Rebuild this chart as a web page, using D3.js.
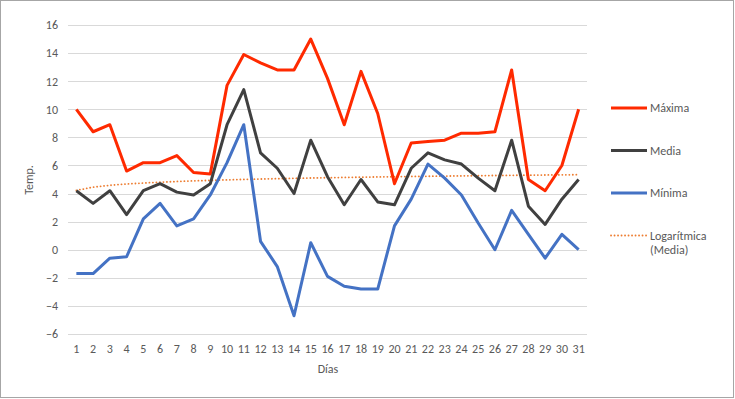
<!DOCTYPE html>
<html>
<head>
<meta charset="utf-8">
<script src="https://cdn.jsdelivr.net/npm/d3@7"></script>
<style>
  body { margin: 0; background: #fff; }
  svg text { font-family: Carlito, "Liberation Sans", Arial, sans-serif; fill: #595959; }
</style>
</head>
<body>
<svg id="chart" width="735" height="399"></svg>
<script>
// data
var days = d3.range(1, 32);
var maxima = [10.0, 8.4, 8.9, 5.6, 6.2, 6.2, 6.7, 5.5, 5.4, 11.7, 13.9, 13.3, 12.8, 12.8, 15.0, 12.2,
  8.9, 12.7, 9.7, 4.7, 7.6, 7.7, 7.8, 8.3, 8.3, 8.4, 12.8, 5.0, 4.2, 6.0, 10.0];
var media = [4.2, 3.3, 4.2, 2.5, 4.2, 4.7, 4.1, 3.9, 4.7, 8.9, 11.4, 6.9, 5.8, 4.0, 7.8, 5.2,
  3.2, 5.0, 3.4, 3.2, 5.8, 6.9, 6.4, 6.1, 5.1, 4.2, 7.8, 3.1, 1.8, 3.6, 5.0];
var minima = [-1.7, -1.7, -0.6, -0.5, 2.2, 3.3, 1.7, 2.2, 3.9, 6.2, 8.9, 0.6, -1.2, -4.7, 0.5, -1.9,
  -2.6, -2.8, -2.8, 1.7, 3.6, 6.1, 5.1, 3.9, 1.9, 0.0, 2.8, 1.1, -0.6, 1.1, 0.0];
var yTicks = [-6, -4, -2, 0, 2, 4, 6, 8, 10, 12, 14, 16];

var series = [
  { name: "Máxima", values: maxima, color: "#FF2A00" },
  { name: "Media", values: media, color: "#404040" },
  { name: "Mínima", values: minima, color: "#4472C4" }
];

// logarithmic trendline of "Media" (least squares on ln(x))
var lx = days.map(function(d) { return Math.log(d); });
var mx = d3.mean(lx), my = d3.mean(media);
var slope = d3.sum(lx, function(v, i) { return (v - mx) * (media[i] - my); }) /
  d3.sum(lx, function(v) { return (v - mx) * (v - mx); });
var icpt = my - slope * mx;
var trend = days.map(function(d) { return slope * Math.log(d) + icpt; });

var svg = d3.select("#chart");

svg.append("rect")
  .attr("x", 0.5).attr("y", 0.5)
  .attr("width", 733).attr("height", 397)
  .attr("fill", "#fff")
  .attr("stroke", "#A6A6A6");

var x = d3.scaleBand().domain(days).range([68, 587]);
var y = d3.scaleLinear().domain([-6, 16]).range([334, 25]);
var cx = function(d) { return x(d) + x.bandwidth() / 2; };

// gridlines
svg.append("g").selectAll("line").data(yTicks).enter().append("line")
  .attr("x1", 68).attr("x2", 587)
  .attr("y1", function(d) { return Math.round(y(d)) + 0.5; })
  .attr("y2", function(d) { return Math.round(y(d)) + 0.5; })
  .attr("stroke", "#D9D9D9")
  .attr("stroke-width", 1);

// y axis
var yAxis = svg.append("g")
  .attr("transform", "translate(68,0)")
  .call(d3.axisLeft(y).tickValues(yTicks).tickSize(0).tickPadding(10).tickFormat(d3.format("d")));
yAxis.select(".domain").remove();
yAxis.selectAll("text").style("font-size", "12px");

// x axis
var xAxis = svg.append("g")
  .attr("transform", "translate(0,334)")
  .call(d3.axisBottom(x).tickSize(0).tickPadding(10));
xAxis.select(".domain").remove();
xAxis.selectAll("text").style("font-size", "12px");

// axis titles
svg.append("text")
  .attr("x", 328).attr("y", 373)
  .attr("text-anchor", "middle")
  .style("font-size", "12px")
  .text("Días");
svg.append("text")
  .attr("transform", "translate(33,180) rotate(-90)")
  .attr("text-anchor", "middle")
  .style("font-size", "12px")
  .text("Temp.");

var line = d3.line()
  .x(function(v, i) { return cx(days[i]); })
  .y(function(v) { return y(v); });

// trendline
svg.append("path")
  .datum(trend)
  .attr("d", line)
  .attr("fill", "none")
  .attr("stroke", "#ED7D31")
  .attr("stroke-width", 1.8)
  .attr("stroke-dasharray", "0.1,3.4")
  .attr("stroke-linecap", "round");

// series lines
svg.append("g").selectAll("path").data(series).enter().append("path")
  .attr("d", function(s) { return line(s.values); })
  .attr("fill", "none")
  .attr("stroke", function(s) { return s.color; })
  .attr("stroke-width", 3)
  .attr("stroke-linejoin", "round");

// legend
var legendItems = series.map(function(s) {
  return { label: [s.name], color: s.color, dotted: false };
});
legendItems.push({ label: ["Logarítmica", "(Media)"], color: "#ED7D31", dotted: true });

var lg = svg.append("g").selectAll("g").data(legendItems).enter().append("g")
  .attr("transform", function(d, i) { return "translate(611," + (108 + i * 42.5) + ")"; });

lg.append("line")
  .attr("x1", 0).attr("x2", 36)
  .attr("stroke", function(d) { return d.color; })
  .attr("stroke-width", function(d) { return d.dotted ? 1.8 : 3; })
  .attr("stroke-dasharray", function(d) { return d.dotted ? "0.1,3.4" : null; })
  .attr("stroke-linecap", function(d) { return d.dotted ? "round" : null; });

lg.append("text")
  .attr("x", 39).attr("y", 4)
  .style("font-size", "12px")
  .selectAll("tspan").data(function(d) { return d.label; }).enter().append("tspan")
  .attr("x", 39)
  .attr("dy", function(t, i) { return i === 0 ? 0 : 14.5; })
  .text(function(t) { return t; });
</script>
</body>
</html>
